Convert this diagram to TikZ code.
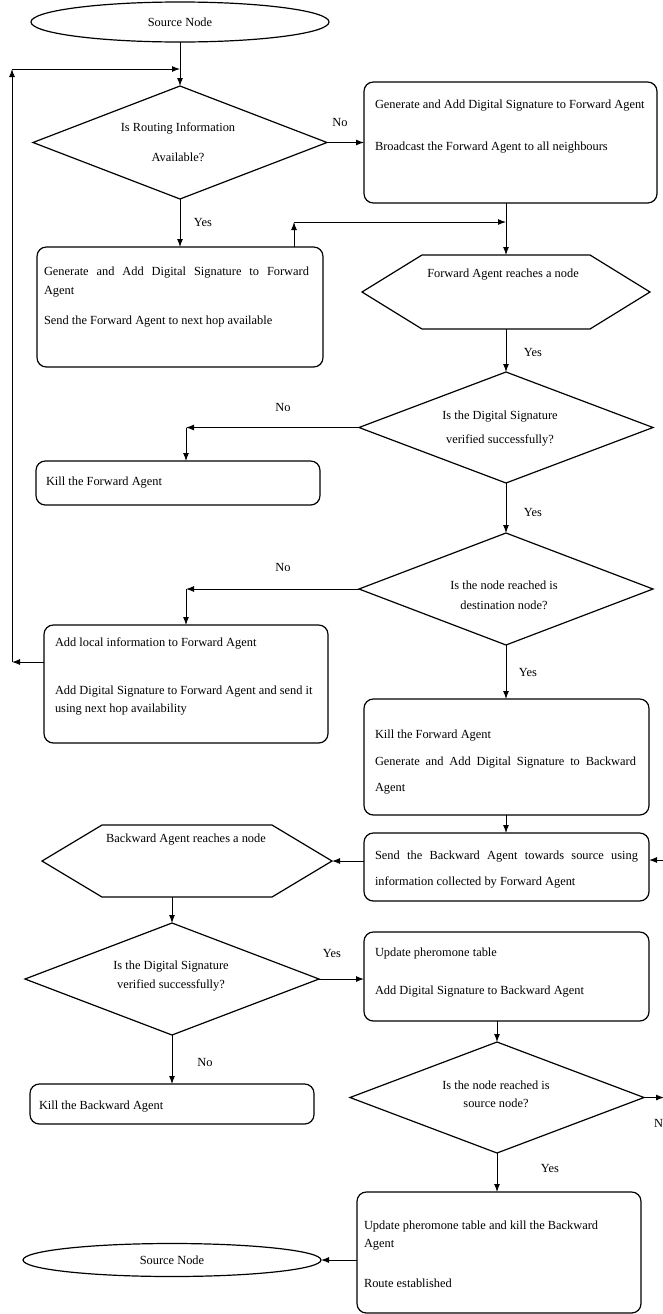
\documentclass[tikz,border=0pt]{standalone}
\usepackage{fontspec}
\setmainfont{Liberation Serif}
\usetikzlibrary{shapes.geometric,arrows.meta}
% box from (x1,y1) to (x2,y2) in pixel units
\newcommand{\mybox}[5]{\node[pbox, minimum width={(#4-#2)*0.75pt}, minimum height={(#5-#3)*0.75pt}] (#1) at ({(#2+#4)/2},{(#3+#5)/2}) {};}
\newcommand{\mydia}[5]{\node[dia, minimum width={(#4-#2)*0.75pt}, minimum height={(#5-#3)*0.75pt}] (#1) at ({(#2+#4)/2},{(#3+#5)/2}) {};}
\newcommand{\myhex}[5]{\node[minimum width={(#4-#2)*0.75pt}, minimum height={(#5-#3)*0.75pt}] (#1) at ({(#2+#4)/2},{(#3+#5)/2}) {};
 \draw[shapeline] (#1.west) -- ([xshift=45pt]#1.north west) -- ([xshift=-45pt]#1.north east) -- (#1.east) -- ([xshift=-45pt]#1.south east) -- ([xshift=45pt]#1.south west) -- cycle;}
\begin{document}
\begin{tikzpicture}[x=0.75pt,y=-0.75pt,
  every node/.style={inner sep=0pt, outer sep=0pt},
  ft/.style={font=\fontsize{9.3}{11}\selectfont},
  txt/.style={ft, anchor=west},
  ctxt/.style={ft},
  pbox/.style={draw, rounded corners=7pt, line width=0.9pt},
  dia/.style={draw, diamond, line width=0.9pt},
  ell/.style={draw, ellipse, line width=0.9pt},
  shapeline/.style={line width=0.9pt},
  arr/.style={line width=0.75pt, -{Latex[length=6pt,width=4.5pt]}}
]
\useasboundingbox (0,0) rectangle (663,1314);
\clip (0,0) rectangle (663,1314);

% ---------- shapes ----------
\node[ell, minimum width=298*0.75pt, minimum height=40*0.75pt] (ell1) at (180,22) {};
\node[ctxt] at (180,22) {Source Node};

\mydia{dia1}{33}{86}{327}{199}
\node[ctxt] at (178,128) {Is Routing Information};
\node[ctxt] at (178,157) {Available?};

\mybox{box1}{364}{82}{657}{203}
\node[txt] at (375,106) {Generate and Add Digital Signature to Forward Agent};
\node[txt] at (375,148) {Broadcast the Forward Agent to all neighbours};

\mybox{box2}{37}{247}{323}{367}
\node[txt] at (44,273) {\makebox[198.75pt][s]{Generate and Add Digital Signature to Forward}};
\node[txt] at (44,292) {Agent};
\node[txt] at (44,322) {Send the Forward Agent to next hop available};

\myhex{hex1}{362}{255}{650}{329}
\node[ctxt] at (503,275) {Forward Agent reaches a node};

\mydia{dia2}{359}{372}{653}{483}
\node[ctxt] at (500,417) {Is the Digital Signature};
\node[ctxt] at (500,440) {verified successfully?};

\mybox{box3}{36}{461}{320}{505}
\node[txt] at (46,483) {Kill the Forward Agent};

\mydia{dia3}{359}{533}{653}{645}
\node[ctxt] at (504,585) {Is the node reached is};
\node[ctxt] at (504,605) {destination node?};

\mybox{box4}{44}{625}{328}{743}
\node[txt] at (55,643) {Add local information to Forward Agent};
\node[txt] at (55,692) {Add Digital Signature to Forward Agent and send it};
\node[txt] at (55,710) {using next hop availability};

\mybox{box5}{364}{699}{649}{815}
\node[txt] at (375,736) {Kill the Forward Agent};
\node[txt] at (375,763) {\makebox[195.75pt][s]{Generate and Add Digital Signature to Backward}};
\node[txt] at (375,789) {Agent};

\mybox{box6}{364}{833}{649}{901}
\node[txt] at (375,857) {\makebox[197.25pt][s]{Send the Backward Agent towards source using}};
\node[txt] at (375,882) {information collected by Forward Agent};

\myhex{hex2}{42}{825}{332}{897}
\node[ctxt] at (186,840) {Backward Agent reaches a node};

\mydia{dia4}{25}{923}{319}{1035}
\node[ctxt] at (171,967) {Is the Digital Signature};
\node[ctxt] at (171,985) {verified successfully?};

\mybox{box7}{364}{932}{649}{1021}
\node[txt] at (375,954) {Update pheromone table};
\node[txt] at (375,992) {Add Digital Signature to Backward Agent};

\mybox{box8}{30}{1084}{314}{1124}
\node[txt] at (39,1107) {Kill the Backward Agent};

\mydia{dia5}{350}{1042}{644}{1153}
\node[ctxt] at (496,1085) {Is the node reached is};
\node[ctxt] at (496,1103) {source node?};

\mybox{box9}{357}{1192}{641}{1313}
\node[txt] at (364,1227) {Update pheromone table and kill the Backward};
\node[txt] at (364,1245) {Agent};
\node[txt] at (364,1283) {Route established};

\node[ell, minimum width=298*0.75pt, minimum height=33*0.75pt] (ell2) at (172,1260) {};
\node[ctxt] at (172,1260) {Source Node};

% ---------- labels ----------
\node[ctxt] at (340,122) {No};
\node[ctxt] at (203,222) {Yes};
\node[ctxt] at (533,352) {Yes};
\node[ctxt] at (283,407) {No};
\node[ctxt] at (533,512) {Yes};
\node[ctxt] at (283,567) {No};
\node[ctxt] at (528,672) {Yes};
\node[ctxt] at (332,953) {Yes};
\node[ctxt] at (205,1062) {No};
\node[txt] at (654,1123) {No};
\node[ctxt] at (550,1168) {Yes};

% ---------- connectors ----------
\coordinate (j0) at (180,69);
\coordinate (fbT) at (12,69);
\coordinate (fbB) at (12,662);
\draw[arr] (ell1.south) -- (dia1.north);
\draw[arr] (fbB -| box4.west) -- (fbB);
\draw[arr] (fbB) -- (fbT);
\draw[arr] (fbT) -- (j0);

\draw[arr] (dia1.east) -- (dia1.east -| box1.west);
\draw[arr] (dia1.south) -- (box2.north);
\coordinate (b2up) at (294,222);
\coordinate (j1) at (506,222);
\draw[arr] (b2up |- box2.north) -- (b2up);
\draw[arr] (b2up) -- (j1);
\draw[arr] (hex1.north |- box1.south) -- (hex1.north);

\draw[arr] (hex1.south) -- (dia2.north);
\coordinate (k2) at (186,427.5);
\draw[arr] (dia2.west) -- (k2);
\draw[arr] (k2) -- (k2 |- box3.north);
\draw[arr] (dia2.south) -- (dia3.north);
\coordinate (k3) at (186,589);
\draw[arr] (dia3.west) -- (k3);
\draw[arr] (k3) -- (k3 |- box4.north);
\draw[arr] (dia3.south) -- (dia3.south |- box5.north);
\draw[arr] (dia3.south |- box5.south) -- (dia3.south |- box6.north);

\coordinate (inR) at (690,860);
\draw[arr] (inR) -- (inR -| box6.east);
\draw[arr] (hex2.east -| box6.west) -- (hex2.east);
\draw[arr] (dia4.north |- hex2.south) -- (dia4.north);
\draw[arr] (dia4.east) -- (dia4.east -| box7.west);
\draw[arr] (dia4.south) -- (box8.north);
\draw[arr] (dia5.north |- box7.south) -- (dia5.north);
\coordinate (outR) at (664,1097.5);
\draw[arr] (dia5.east) -- (outR);
\draw[arr] (dia5.south) -- (dia5.south |- box9.north);
\draw[arr] (ell2.east -| box9.west) -- (ell2.east);
\end{tikzpicture}
\end{document}
